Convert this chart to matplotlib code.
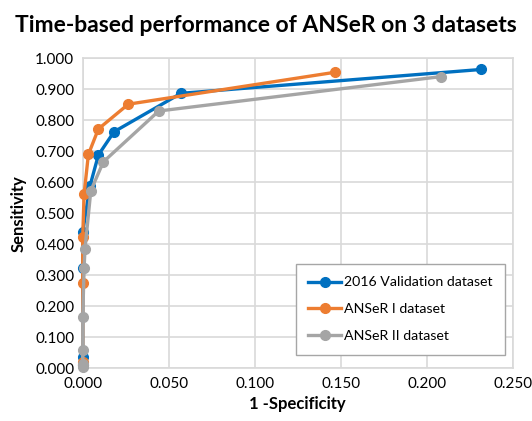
import matplotlib
matplotlib.use("Agg")
import matplotlib.pyplot as plt
from matplotlib.ticker import FormatStrFormatter, MultipleLocator

plt.rcParams['font.family'] = ['Lato', 'DejaVu Sans']

# ====== data ======
x_val2016 = [0.0, 0.0, 0.0, 0.0, 0.0042, 0.0091, 0.0182, 0.0571, 0.2316]
y_val2016 = [0.010, 0.037, 0.323, 0.440, 0.588, 0.688, 0.763, 0.887, 0.964]

x_anser1 = [0.0, 0.0, 0.0, 0.0, 0.0008, 0.0033, 0.0091, 0.0265, 0.1467]
y_anser1 = [0.010, 0.020, 0.276, 0.423, 0.562, 0.690, 0.772, 0.852, 0.955]

x_anser2 = [0.0, 0.0, 0.0, 0.0, 0.0008, 0.0013, 0.0047, 0.0120, 0.0442, 0.2083]
y_anser2 = [0.005, 0.014, 0.059, 0.165, 0.323, 0.384, 0.573, 0.666, 0.830, 0.941]

labels = ['2016 Validation dataset', 'ANSeR I dataset', 'ANSeR II dataset']
colors = ['#0070C0', '#ED7D31', '#A5A5A5']

fig = plt.figure(figsize=(5.32, 4.21), dpi=100)
ax = fig.add_axes([0.1555, 0.1252, 0.8082, 0.7363])

for xs, ys, lab, c in zip([x_val2016, x_anser1, x_anser2],
                          [y_val2016, y_anser1, y_anser2], labels, colors):
    ax.plot(xs, ys, color=c, lw=2.4, marker='o', ms=7, label=lab, clip_on=False, zorder=3)

ax.set_xlim(0, 0.25)
ax.set_ylim(0, 1.0)
ax.xaxis.set_major_locator(MultipleLocator(0.05))
ax.yaxis.set_major_locator(MultipleLocator(0.1))
ax.xaxis.set_major_formatter(FormatStrFormatter('%.3f'))
ax.yaxis.set_major_formatter(FormatStrFormatter('%.3f'))
ax.grid(True, color='#d9d9d9', lw=1.2)
ax.set_axisbelow(True)
for s in ax.spines.values():
    s.set_color('#d9d9d9')
    s.set_linewidth(1.2)
ax.tick_params(length=0, labelsize=11, pad=6)

ax.set_xlabel('1 -Specificity', fontsize=12, fontweight='bold', labelpad=4)
ax.set_ylabel('Sensitivity', fontsize=12, fontweight='bold', labelpad=6)
fig.suptitle('Time-based performance of ANSeR on 3 datasets', fontsize=16.5,
             fontweight='bold', y=0.965)

leg = ax.legend(loc='lower right', bbox_to_anchor=(0.982, 0.043), fontsize=10.2,
                frameon=True, fancybox=False, edgecolor='#a6a6a6', framealpha=1,
                borderpad=0.9, labelspacing=1.05, handlelength=2.3, handletextpad=0.2,
                borderaxespad=0)
leg.get_frame().set_linewidth(1.0)

fig.savefig('out.png', dpi=100)
